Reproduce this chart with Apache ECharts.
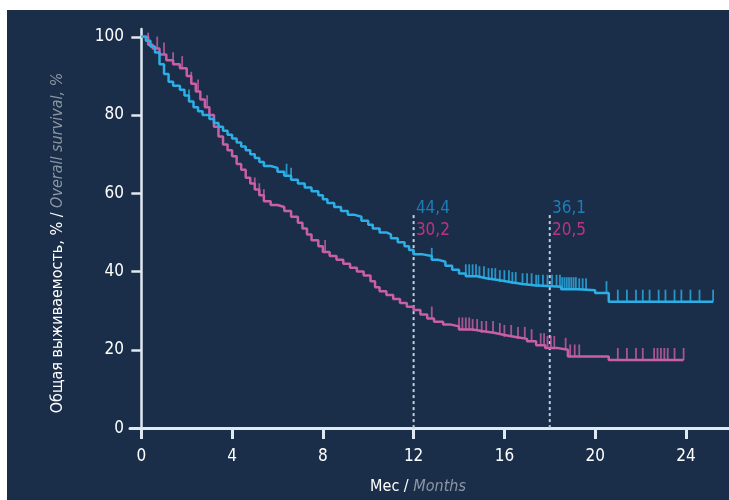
<!DOCTYPE html>
<html><head><meta charset="utf-8">
<script src="https://cdn.jsdelivr.net/npm/echarts@6/dist/echarts.min.js"></script>
<style>html,body{margin:0;padding:0;background:#fff}#c{width:729px;height:500px}</style>
</head><body><div id="c"></div>
<script>
// Kaplan–Meier curves: [month, survival %]
const blueCurve = [[0,100],[0.2,99],[0.4,97.5],[0.6,96],[0.8,93],[1.0,90.5],[1.2,88.5],[1.4,87.5],[1.7,86.5],[1.9,85],[2.1,83.5],[2.3,82],[2.5,81],[2.7,80],[3.0,79],[3.2,78],[3.4,77],[3.6,76],[3.8,75],[4.0,74],[4.2,73],[4.4,72],[4.6,71],[4.8,70],[5.0,69],[5.2,68],[5.4,67],[5.7,66.5],[6.0,65.5],[6.3,64.5],[6.6,63.5],[6.9,62.5],[7.2,61.5],[7.5,60.5],[7.8,59.5],[8.0,58.5],[8.2,57.5],[8.5,56.5],[8.8,55.5],[9.1,54.5],[9.4,54],[9.7,53],[10.0,52],[10.2,51],[10.5,50],[10.8,49.5],[11.0,48.5],[11.3,47.5],[11.6,46.5],[11.8,45.5],[12.0,44.4],[12.4,44],[12.8,43],[13.1,42.5],[13.4,41.5],[13.7,40.5],[14.0,39.5],[14.3,38.8],[14.8,38.3],[15.2,37.8],[15.8,37.3],[16.3,36.8],[16.8,36.5],[17.3,36.1],[18.5,35.5],[19.3,35.2],[20.0,34.5],[20.6,32.3],[25.2,32.3]];
const pinkCurve = [[0,100],[0.3,98],[0.5,97],[0.8,95.5],[1.1,94],[1.4,93],[1.7,92],[2.0,90],[2.2,88],[2.4,86],[2.6,84],[2.8,82],[3.0,80],[3.2,77],[3.4,74.5],[3.6,72.5],[3.8,71],[4.0,69.5],[4.2,67.5],[4.4,66],[4.6,64],[4.8,62.5],[5.0,61],[5.2,59.5],[5.4,58],[5.7,57],[6.0,56.5],[6.3,55.5],[6.6,54],[6.9,52.5],[7.1,51],[7.3,49.5],[7.5,48],[7.8,46.5],[8.0,45],[8.3,44],[8.6,43],[8.9,42],[9.2,41],[9.5,40],[9.8,39],[10.1,37.5],[10.3,36],[10.5,35],[10.8,34],[11.1,33],[11.4,32],[11.7,31],[12.0,30.2],[12.3,29],[12.6,28],[12.9,27.2],[13.3,26.5],[13.6,26],[14.0,25.2],[14.6,24.8],[15.0,24.3],[15.6,23.8],[16.0,23.3],[16.5,22.8],[17.0,22.2],[17.4,21.2],[17.8,20.5],[18.3,20],[18.8,18.3],[20.6,17.4],[23.9,17.4]];
// censoring times (months)
const blueCensor = [2.1,6.4,6.6,12.8,14.3,14.45,14.6,14.75,14.9,15.1,15.3,15.45,15.6,15.8,16.0,16.2,16.35,16.5,16.8,17.0,17.2,17.4,17.5,17.7,17.9,18.1,18.3,18.45,18.55,18.65,18.75,18.85,18.95,19.05,19.15,19.3,19.45,19.6,20.5,21.0,21.4,21.8,22.1,22.4,22.8,23.1,23.5,23.8,24.2,24.6,25.2];
const pinkCensor = [0.3,0.7,1.0,1.4,1.8,2.2,2.5,2.9,3.2,5.0,5.2,5.4,8.1,12.8,14.0,14.15,14.3,14.45,14.6,14.8,15.0,15.2,15.5,15.8,16.0,16.3,16.6,16.9,17.2,17.6,17.75,17.9,18.05,18.2,18.7,18.9,19.1,19.3,21.0,21.4,21.8,22.1,22.6,22.75,22.9,23.05,23.2,23.5,23.9];
const xTicks = [0,4,8,12,16,20,24];
const yTicks = [0,20,40,60,80,100];
const markTimes = [12,18];
const markLabels = [['44,4','30,2'],['36,1','20,5']];
const markTop = 55;

const FONT = '"Liberation Sans Narrow","DejaVu Sans Condensed",sans-serif';
const BLUE = '#2bafe6', PINK = '#c95fa6';

function valueAt(curve, t){ let v = curve[0][1]; for (const p of curve){ if (p[0] <= t) v = p[1]; else break; } return v; }
const blueCensorPts = blueCensor.map(t => [t, valueAt(blueCurve, t)]);
const pinkCensorPts = pinkCensor.map(t => [t, valueAt(pinkCurve, t)]);

const chart = echarts.init(document.getElementById('c'));
const axisColor = '#dfe9f2';
chart.setOption({
  backgroundColor: '#ffffff',
  animation: false,
  graphic: [
    {type:'rect', z:-10, shape:{x:7,y:10,width:722,height:490}, style:{fill:'#1a2e4a'}},
    {type:'text', x:418, y:487, style:{text:'{w|Мес / }{g|Months}', align:'center', verticalAlign:'middle',
      rich:{w:{fill:'#ffffff', fontSize:16, fontFamily:FONT}, g:{fill:'#8c96a3', fontSize:16, fontStyle:'italic', fontFamily:FONT}}}},
    {type:'text', x:58, y:243, rotation:Math.PI/2, style:{text:'{w|Общая выживаемость, % / }{g|Overall survival, %}', align:'center', verticalAlign:'middle',
      rich:{w:{fill:'#ffffff', fontSize:16, fontFamily:FONT}, g:{fill:'#8c96a3', fontSize:16, fontStyle:'italic', fontFamily:FONT}}}}
  ],
  grid: {left:130, right:0, top:29, bottom:68, containLabel:false},
  xAxis: {type:'value', min:-0.5, max:25.9, splitLine:{show:false},
    axisLine:{onZero:true, lineStyle:{color:axisColor, width:3}},
    axisTick:{customValues:xTicks, length:11, lineStyle:{color:axisColor, width:3}},
    axisLabel:{customValues:xTicks, color:'#ffffff', fontSize:17, fontFamily:FONT, margin:16}},
  yAxis: {type:'value', min:-1, max:102, splitLine:{show:false},
    axisLine:{onZero:true, lineStyle:{color:axisColor, width:2.5}},
    axisTick:{customValues:yTicks, length:10, lineStyle:{color:axisColor, width:2.5}},
    axisLabel:{customValues:yTicks, color:'#ffffff', fontSize:17, fontFamily:FONT, margin:6}},
  series: [
    ...markTimes.map(t => ({type:'line', data:[[t,0],[t,markTop]], symbol:'none', silent:true, z:1,
      lineStyle:{color:'#c3cfdb', width:2, type:[3,3]}})),
    {type:'line', data:pinkCurve, step:'end', symbol:'none', z:3, lineStyle:{color:PINK, width:2.5}},
    {type:'line', data:blueCurve, step:'end', symbol:'none', z:4, lineStyle:{color:BLUE, width:2.5}},
    {type:'scatter', data:pinkCensorPts, symbol:'rect', symbolSize:[1.8,12], symbolOffset:[0,-6], z:3, itemStyle:{color:PINK}},
    {type:'scatter', data:blueCensorPts, symbol:'rect', symbolSize:[1.8,12], symbolOffset:[0,-6], z:4, itemStyle:{color:BLUE}},
    {type:'scatter', symbol:'circle', symbolSize:0, silent:true, z:5,
      data: markTimes.flatMap((t,i) => [
        {value:[t+0.1, 56], label:{show:true, formatter:markLabels[i][0], position:'right', distance:0, color:'#1f90d2', fontSize:17, fontFamily:FONT}},
        {value:[t+0.1, 50.5], label:{show:true, formatter:markLabels[i][1], position:'right', distance:0, color:'#e2378d', fontSize:17, fontFamily:FONT}}
      ])}
  ]
});
</script></body></html>
